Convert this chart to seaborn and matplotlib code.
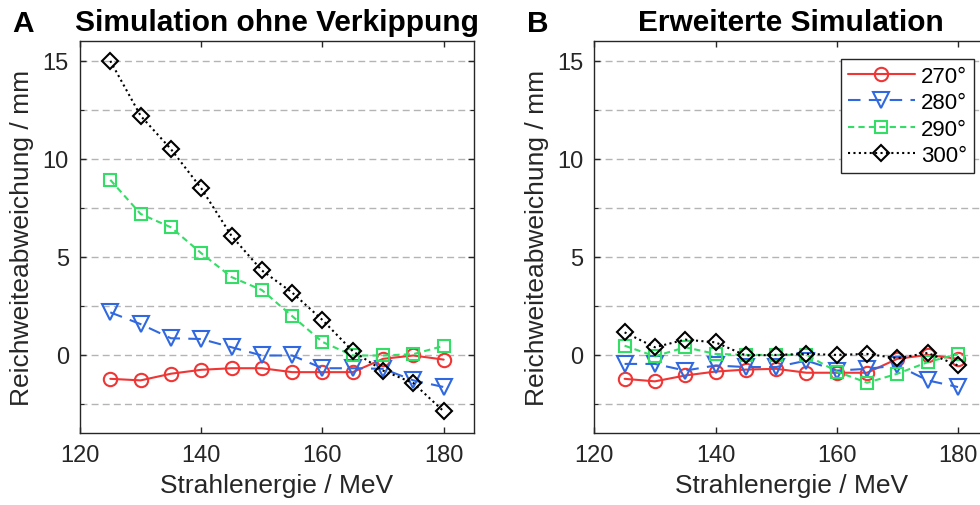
import matplotlib
matplotlib.use("Agg")
import matplotlib.pyplot as plt
import seaborn as sns
import numpy as np
from matplotlib.ticker import FixedLocator

# =========================
# DATA
# =========================
energy = [125, 130, 135, 140, 145, 150, 155, 160, 165, 170, 175, 180]
angles = ["270°", "280°", "290°", "300°"]

# A: Simulation ohne Verkippung
a_270 = [-1.22, -1.30, -0.96, -0.76, -0.68, -0.68, -0.88, -0.88, -0.88, -0.20, -0.03, -0.24]
a_280 = [2.17, 1.57, 0.85, 0.81, 0.39, -0.03, -0.03, -0.68, -0.68, -0.71, -1.30, -1.64]
a_290 = [8.93, 7.19, 6.51, 5.19, 3.97, 3.31, 1.98, 0.66, -0.03, -0.03, 0.04, 0.46]
a_300 = [15.0, 12.2, 10.5, 8.5, 6.07, 4.31, 3.18, 1.78, 0.19, -0.80, -1.44, -2.88]

# B: Erweiterte Simulation
b_270 = [-1.22, -1.35, -1.05, -0.85, -0.75, -0.71, -0.91, -0.91, -0.91, -0.20, 0.00, -0.20]
b_280 = [-0.46, -0.46, -0.80, -0.54, -0.62, -0.62, -0.29, -0.80, -0.71, -0.54, -1.30, -1.64]
b_290 = [0.47, -0.07, 0.39, 0.05, 0.00, 0.00, 0.00, -0.85, -1.42, -0.96, -0.37, 0.05]
b_300 = [1.15, 0.39, 0.78, 0.64, -0.03, 0.00, 0.05, 0.00, 0.05, -0.17, 0.10, -0.54]

panel_a = [a_270, a_280, a_290, a_300]
panel_b = [b_270, b_280, b_290, b_300]

# =========================
# STYLE
# =========================
colors = ["#f03535", "#3068e0", "#33dd66", "#000000"]
markers = ["o", "v", "s", "D"]
msizes = [9.6, 11.5, 8.4, 8.5]
linestyles = ["-", (0, (6, 4)), (0, (3, 2)), (0, (1, 1.6))]

sns.set_style("ticks")
plt.rcParams["font.family"] = ["Liberation Sans", "DejaVu Sans"]

fig = plt.figure(figsize=(9.8, 5.06), dpi=100)
ax_a = fig.add_axes([80 / 980, 71.7 / 506, 394 / 980, 392 / 506])
ax_b = fig.add_axes([594.3 / 980, 71.7 / 506, 394 / 980, 392 / 506])

for ax, series in [(ax_a, panel_a), (ax_b, panel_b)]:
    for i in range(4):
        sns.lineplot(x=energy, y=series[i], ax=ax, color=colors[i],
                     marker=markers[i], markersize=msizes[i],
                     markerfacecolor="none", markeredgecolor=colors[i],
                     markeredgewidth=1.5, linestyle=linestyles[i],
                     linewidth=1.5, label=angles[i], legend=False)

    ax.set_xlim(120, 185)
    ax.set_ylim(-4, 16)
    ax.xaxis.set_major_locator(FixedLocator([120, 140, 160, 180]))
    ax.yaxis.set_major_locator(FixedLocator([0, 5, 10, 15]))
    ax.yaxis.set_minor_locator(FixedLocator([-2.5, 2.5, 7.5, 12.5]))
    ax.grid(True, axis="y", which="both", color="#b4b4b4",
            linestyle=(0, (5, 3)), linewidth=1.0)
    ax.set_axisbelow(True)
    ax.tick_params(axis="both", which="major", direction="in", length=4,
                   top=True, right=True, labelsize=17, colors="#262626",
                   width=1, pad=8)
    ax.tick_params(axis="y", which="minor", direction="in", length=3,
                   left=True, right=True, width=0.8, colors="#262626")
    for s in ax.spines.values():
        s.set_color("#262626")
        s.set_linewidth(1)
        s.set_visible(True)
    ax.set_xlabel("Strahlenergie / MeV", fontsize=19, color="#262626", labelpad=5)
    ax.set_ylabel("Reichweiteabweichung / mm", fontsize=19, color="#262626", labelpad=6)

ax_a.set_title("Simulation ohne Verkippung", fontsize=21.5, fontweight="bold",
               pad=8, color="black")
ax_b.set_title("Erweiterte Simulation", fontsize=21.5, fontweight="bold",
               pad=8, color="black")
fig.text(12 / 980, 1 - 32 / 506, "A", fontsize=21.5, fontweight="bold",
         va="baseline", color="black")
fig.text(527 / 980, 1 - 32 / 506, "B", fontsize=21.5, fontweight="bold",
         va="baseline", color="black")

handles, labels = ax_b.get_legend_handles_labels()
leg = ax_b.legend(handles, labels, loc="upper right", bbox_to_anchor=(0.964, 0.955),
                  borderaxespad=0, fontsize=16, handlelength=3.0, handletextpad=0.3,
                  labelspacing=0.25, frameon=True, fancybox=False, borderpad=0.3)
for t in leg.get_texts():
    t.set_color("black")
leg.get_frame().set_edgecolor("#262626")
leg.get_frame().set_linewidth(1)
leg.get_frame().set_alpha(1)

fig.savefig("out.png", dpi=100)
